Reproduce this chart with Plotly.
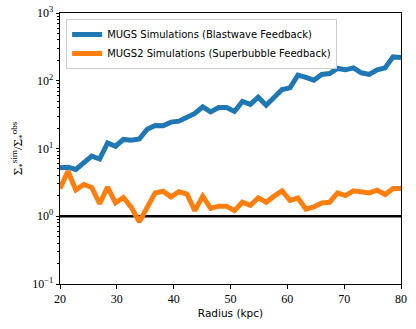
import plotly.graph_objects as go

radius_kpc = [20.0, 21.4, 22.79, 24.19, 25.58, 26.98, 28.37, 29.77, 31.16, 32.56, 33.95,
              35.35, 36.74, 38.14, 39.53, 40.93, 42.33, 43.72, 45.12, 46.51, 47.91, 49.3,
              50.7, 52.09, 53.49, 54.88, 56.28, 57.67, 59.07, 60.47, 61.86, 63.26, 64.65,
              66.05, 67.44, 68.84, 70.23, 71.63, 73.02, 74.42, 75.81, 77.21, 78.6, 80.0]

mugs_blastwave = [5.2, 5.3, 4.9, 6.1, 7.7, 7.0, 12.1, 10.8, 13.6, 13.2, 13.8,
                  19.3, 21.9, 21.6, 24.5, 25.3, 29.3, 32.9, 41.2, 34.7, 40.3, 40.3,
                  35.2, 49.5, 44.7, 57.3, 43.6, 56.6, 74.3, 78.5, 121, 112, 102,
                  124, 128, 152, 145, 155, 131, 124, 145, 155, 225, 220]

mugs2_superbubble = [2.57, 4.6, 2.45, 2.94, 2.66, 1.54, 2.7, 1.58, 1.89, 1.35, 0.83,
                     1.37, 2.2, 2.34, 1.93, 2.3, 2.13, 1.21, 1.97, 1.31, 1.41, 1.41,
                     1.21, 1.61, 1.45, 1.87, 1.61, 1.98, 2.37, 1.72, 1.86, 1.27, 1.37,
                     1.57, 1.61, 2.21, 2.02, 2.37, 2.24, 2.21, 2.42, 2.09, 2.57, 2.57]

series_names = ["MUGS Simulations (Blastwave Feedback)",
                "MUGS2 Simulations (Superbubble Feedback)"]
reference_level = 1.0

x_ticks = [20, 30, 40, 50, 60, 70, 80]
y_ticks = [0.1, 1, 10, 100, 1000]
y_ticktext = ["10<sup>\u22121</sup>", "10<sup>0</sup>", "10<sup>1</sup>",
              "10<sup>2</sup>", "10<sup>3</sup>"]
y_minor = [k * 10.0 ** e for e in range(-1, 3) for k in range(2, 10)]

fig = go.Figure()
fig.add_trace(go.Scatter(x=[radius_kpc[0], radius_kpc[-1]], y=[reference_level, reference_level],
                         mode="lines", line=dict(color="black", width=2.5),
                         showlegend=False, hoverinfo="skip"))
fig.add_trace(go.Scatter(x=radius_kpc, y=mugs_blastwave, mode="lines", name=series_names[0],
                         line=dict(color="#1f77b4", width=5)))
fig.add_trace(go.Scatter(x=radius_kpc, y=mugs2_superbubble, mode="lines", name=series_names[1],
                         line=dict(color="#ff7f0e", width=5)))

tickfont = dict(family="Liberation Serif", size=12, color="black")
fig.update_layout(
    width=416, height=329,
    margin=dict(l=60, r=15, t=13, b=45),
    paper_bgcolor="white", plot_bgcolor="white",
    font=dict(family="DejaVu Sans", size=10, color="black"),
    legend=dict(x=0.018, y=0.978, xanchor="left", yanchor="top",
                bgcolor="rgba(255,255,255,0.8)", bordercolor="#cccccc", borderwidth=1,
                font=dict(family="DejaVu Sans", size=10, color="black"), tracegroupgap=0),
    xaxis=dict(range=[20, 80], tickvals=x_ticks, ticks="outside", ticklen=3.5,
               tickcolor="black", showline=True, linecolor="black", linewidth=1,
               mirror=True, showgrid=False, zeroline=False, tickfont=tickfont,
               automargin=False, ticklabeloverflow="allow",
               title=dict(text="Radius (kpc)",
                          font=dict(family="DejaVu Sans", size=10.5, color="black"),
                          standoff=4)),
    yaxis=dict(type="log", range=[-1, 3], tickmode="array", tickvals=y_ticks,
               ticktext=y_ticktext, ticks="outside", ticklen=3.5, tickcolor="black",
               showline=True, linecolor="black", linewidth=1, mirror=True,
               showgrid=False, zeroline=False, tickfont=tickfont, automargin=False,
               ticklabeloverflow="allow",
               minor=dict(tickmode="array", tickvals=y_minor, ticks="outside",
                          ticklen=2, tickcolor="black", showgrid=False),
               title=dict(text="\u03a3<sub>*</sub><sup>sim</sup>/\u03a3<sub>*</sub><sup>obs</sup>",
                          font=dict(family="Liberation Serif", size=13, color="black"),
                          standoff=6)),
)

# remove the browser's default 8px body margin so the figure fills the window exactly
fig.write_html("out.html", config={"displayModeBar": False},
               post_script="document.body.style.margin='0px';")
